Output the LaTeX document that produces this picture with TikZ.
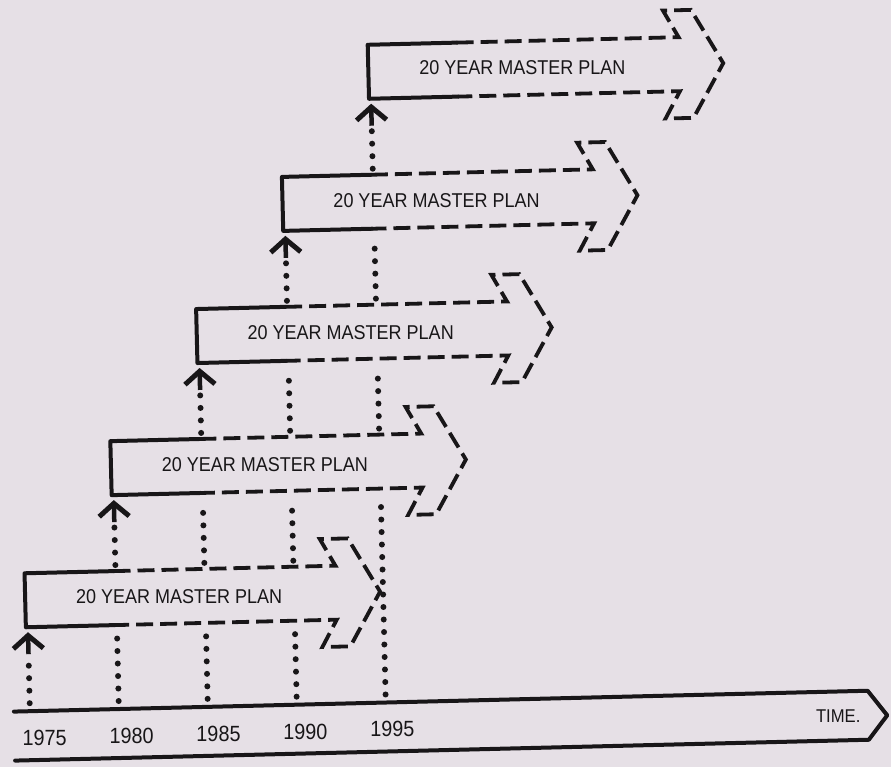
\documentclass[tikz,border=0pt]{standalone}
\usepackage{fontspec}
\usetikzlibrary{arrows.meta,calc}
\newfontfamily\planfont[FakeStretch=0.9]{Liberation Sans}
\definecolor{PaperGray}{RGB}{230,224,230}
\definecolor{InkBlack}{RGB}{24,22,24}
\tikzset{
  solidline/.style={InkBlack,line width=4pt,line cap=round,line join=round},
  dashline/.style={InkBlack,line width=3.8pt,dash pattern=on 17pt off 7pt},
  dotline/.style={InkBlack,line width=6pt,line cap=round,dash pattern=on 0pt off 12.5pt},
  uparrow/.style={InkBlack,line width=4.5pt,-{Straight Barb[length=13pt,width=30pt,line width=5pt]}},
  plantext/.style={font=\planfont\fontsize{20}{24}\selectfont,text=InkBlack},
  yeartext/.style={font=\planfont\fontsize{22}{26}\selectfont,text=InkBlack}
}

\begin{document}
\begin{tikzpicture}[x=1pt,y=-1pt]
\fill[PaperGray] (0,0) rectangle (891,767);
\useasboundingbox (0,0) rectangle (891,767);
\begin{scope}[rotate around={1.4:(445,383)}]
% time axis
\coordinate (axl) at (6,701);
\draw[solidline] (axl) -- (860,701) -- (879,726) -- (860,750) -- (6,750);
\node[plantext,font=\planfont\fontsize{18.5}{22}\selectfont] (time) at (830,726) {TIME.};
\foreach \j/\yr in {0/1975,1/1980,2/1985,3/1990,4/1995}{
  \node[yeartext] (yr\j) at (36+87*\j,728) {\yr};
  \coordinate (col\j) at (22+89*\j,693);
}
% master plans
\foreach \i in {0,...,4}{
  \coordinate (p\i) at (20+89*\i,590-130*\i);
  \coordinate (top\i) at ($(p\i)+(0,-27)$);
  \coordinate (bot\i) at ($(p\i)+(0,27)$);
  \draw[solidline] ($(p\i)+(89,-27)$) -- (top\i) -- (bot\i) -- ($(p\i)+(89,27)$);
  \draw[dashline] ($(p\i)+(89,-27)$) -- ++(222,0) -- ++(-15,-27) -- ++(28,0) -- ($(p\i)+(355,0)$)
    -- ($(p\i)+(324,54)$) -- ++(-28,0) -- ++(15,-27) -- ($(p\i)+(89,27)$);
  \node[plantext] (plan\i) at ($(p\i)+(154,0)$) {20 YEAR MASTER PLAN};
}
% dotted lines up from the axis
\foreach \j in {0,...,4}{
  \pgfmathtruncatemacro\lo{max(0,\j-3)-1}
  \pgfmathtruncatemacro\hi{\j-1}
  \foreach \k in {\lo,...,\hi}{
    \pgfmathtruncatemacro\n{\k+1}
    \ifnum\k=\lo \coordinate (from) at (col\j); \else \coordinate (from) at ($(col\j |- top\k)+(0,-6)$); \fi
    \ifnum\n=\j
      \draw[dotline] (from) -- ($(col\j |- bot\n)+(0,28)$);
      \draw[uparrow] ($(col\j |- bot\n)+(0,27)$) -- ($(col\j |- bot\n)+(0,5)$);
    \else
      \draw[dotline] (from) -- ($(col\j |- bot\n)+(0,8)$);
    \fi
  }
}
\end{scope}
\end{tikzpicture}
\end{document}
